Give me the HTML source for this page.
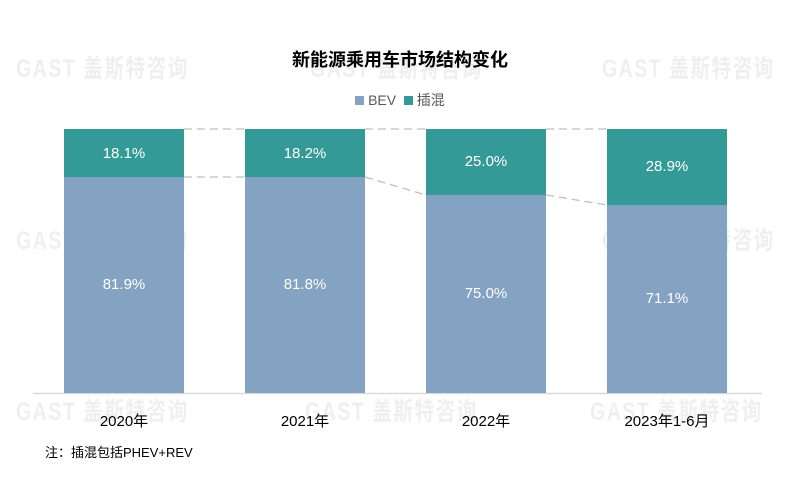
<!DOCTYPE html>
<html><head><meta charset="utf-8"><style>
body{margin:0;width:800px;height:487px;background:#fff;position:relative;overflow:hidden;font-family:"Liberation Sans","Noto Sans CJK SC",sans-serif}
.wm{position:absolute;font-size:25px;color:#efefef;font-weight:bold;letter-spacing:2px;white-space:nowrap;line-height:30px;transform:scaleX(0.78);transform-origin:left top}
.bar{position:absolute;width:120px}
.b{background:#84a2c2}.p{background:#339a97}
.lbl{position:absolute;width:120px;text-align:center;color:#fff;font-size:15px}
.x{position:absolute;width:180px;text-align:center;font-size:15px;color:#000;top:410px}
</style></head><body>
<div class="wm" style="left:16px;top:54px">GAST 盖斯特咨询</div>
<div class="wm" style="left:602px;top:54px">GAST 盖斯特咨询</div>
<div class="wm" style="left:310px;top:54px">GAST 盖斯特咨询</div>
<div class="wm" style="left:16px;top:226px">GAST 盖斯特咨询</div>
<div class="wm" style="left:602px;top:226px">GAST 盖斯特咨询</div>
<div class="wm" style="left:16px;top:397px">GAST 盖斯特咨询</div>
<div class="wm" style="left:305px;top:397px">GAST 盖斯特咨询</div>
<div class="wm" style="left:590px;top:397px">GAST 盖斯特咨询</div>
<div style="position:absolute;left:0;width:800px;top:46px;text-align:center;font-size:18px;font-weight:bold;color:#000">新能源乘用车市场结构变化</div>
<div style="position:absolute;left:0;width:800px;top:90px;text-align:center;font-size:14px;color:#595959"><span style="display:inline-block;width:9px;height:9px;background:#84a2c2"></span> BEV &nbsp;<span style="display:inline-block;width:9px;height:9px;background:#339a97"></span> 插混</div>
<svg style="position:absolute;left:0;top:0" width="800" height="487">
<g stroke="#bfbfbf" stroke-width="1.3" stroke-dasharray="8,5" fill="none">
<line x1="184" y1="129" x2="245" y2="129"/><line x1="365" y1="129" x2="426" y2="129"/><line x1="546" y1="129" x2="607" y2="129"/>
<line x1="184" y1="177" x2="245" y2="177"/><line x1="365" y1="177" x2="426" y2="195"/><line x1="546" y1="195" x2="607" y2="205"/>
</g>
<line x1="33" y1="393.5" x2="762" y2="393.5" stroke="#d9d9d9" stroke-width="1.5"/>
</svg>
<div class="bar p" style="left:64px;top:129px;height:48px"></div><div class="bar b" style="left:64px;top:177px;height:216px"></div>
<div class="bar p" style="left:245px;top:129px;height:48px"></div><div class="bar b" style="left:245px;top:177px;height:216px"></div>
<div class="bar p" style="left:426px;top:129px;height:66px"></div><div class="bar b" style="left:426px;top:195px;height:198px"></div>
<div class="bar p" style="left:607px;top:129px;height:76px"></div><div class="bar b" style="left:607px;top:205px;height:188px"></div>
<div class="lbl" style="left:64px;top:145px">18.1%</div><div class="lbl" style="left:64px;top:276px">81.9%</div>
<div class="lbl" style="left:245px;top:145px">18.2%</div><div class="lbl" style="left:245px;top:276px">81.8%</div>
<div class="lbl" style="left:426px;top:153px">25.0%</div><div class="lbl" style="left:426px;top:285px">75.0%</div>
<div class="lbl" style="left:607px;top:158px">28.9%</div><div class="lbl" style="left:607px;top:290px">71.1%</div>
<div class="x" style="left:34px">2020年</div><div class="x" style="left:215px">2021年</div><div class="x" style="left:396px">2022年</div><div class="x" style="left:577px">2023年1-6月</div>
<div style="position:absolute;left:45px;top:442px;font-size:13px;color:#000">注：插混包括PHEV+REV</div>
</body></html>
